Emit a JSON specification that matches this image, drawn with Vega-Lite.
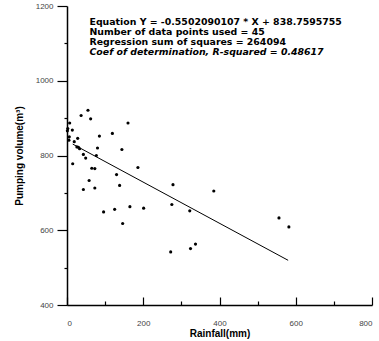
{
  "$schema": "https://vega.github.io/schema/vega-lite/v6.json",
  "width": 305,
  "height": 299,
  "autosize": {"type": "none"},
  "padding": {"left": 67, "top": 6, "right": 7, "bottom": 36},
  "background": "white",
  "config": {
    "view": {"stroke": null},
    "font": "Liberation Sans",
    "axis": {
      "grid": false,
      "domainColor": "#000000",
      "domainWidth": 1.5,
      "tickColor": "#000000",
      "tickWidth": 1.2,
      "labelFont": "Liberation Sans",
      "labelFontSize": 8,
      "labelColor": "#444444",
      "titleFont": "Liberation Sans",
      "titleFontSize": 10,
      "titleFontWeight": "bold",
      "titleColor": "#000000",
      "format": "d"
    }
  },
  "encoding": {
    "x": {
      "field": "x",
      "type": "quantitative",
      "scale": {"domain": [0, 800], "nice": false, "zero": false},
      "axis": {
        "title": "Rainfall(mm)",
        "values": [0, 100, 200, 300, 400, 500, 600, 700, 800],
        "labelExpr": "datum.value % 200 == 0 ? datum.label : ''",
        "tickSize": {"condition": {"test": "datum.value % 200 == 0", "value": -8}, "value": -4},
        "labelPadding": 22,
        "titlePadding": 1
      }
    },
    "y": {
      "field": "y",
      "type": "quantitative",
      "scale": {"domain": [400, 1200], "nice": false, "zero": false},
      "axis": {
        "title": "Pumping volume(m³)",
        "values": [400, 500, 600, 700, 800, 900, 1000, 1100, 1200],
        "labelExpr": "datum.value % 200 == 0 ? datum.label : ''",
        "tickSize": {"condition": {"test": "datum.value % 200 == 0", "value": 10}, "value": 3},
        "labelPadding": 4,
        "titlePadding": 11
      }
    }
  },
  "layer": [
    {
      "data": {"values": [
        {"x": 37, "y": 907}, {"x": 55, "y": 921}, {"x": 62, "y": 898}, {"x": 7, "y": 887},
        {"x": 14, "y": 868}, {"x": 2, "y": 872}, {"x": 28, "y": 846}, {"x": 85, "y": 852},
        {"x": 119, "y": 859}, {"x": 160, "y": 887}, {"x": 5, "y": 841}, {"x": 19, "y": 837},
        {"x": 26, "y": 823}, {"x": 30, "y": 822}, {"x": 80, "y": 820}, {"x": 144, "y": 816},
        {"x": 43, "y": 803}, {"x": 49, "y": 793}, {"x": 77, "y": 800}, {"x": 15, "y": 778},
        {"x": 65, "y": 766}, {"x": 73, "y": 765}, {"x": 130, "y": 749}, {"x": 186, "y": 768},
        {"x": 58, "y": 733}, {"x": 138, "y": 720}, {"x": 278, "y": 722}, {"x": 43, "y": 709},
        {"x": 73, "y": 713}, {"x": 275, "y": 669}, {"x": 322, "y": 652}, {"x": 96, "y": 649},
        {"x": 125, "y": 656}, {"x": 165, "y": 663}, {"x": 201, "y": 659}, {"x": 146, "y": 618},
        {"x": 324, "y": 551}, {"x": 337, "y": 563}, {"x": 385, "y": 705}, {"x": 556, "y": 633},
        {"x": 582, "y": 609}, {"x": 272, "y": 542}, {"x": 1, "y": 866}, {"x": 6, "y": 850},
        {"x": 33, "y": 818}
      ]},
      "mark": {"type": "circle", "size": 10, "color": "#000000", "opacity": 1}
    },
    {
      "data": {"values": [{"x": 15, "y": 830.5}, {"x": 580, "y": 519.6}]},
      "mark": {"type": "line", "color": "#000000", "strokeWidth": 1}
    },
    {
      "data": {"values": [
        {"x": 59, "y": 1156, "t": "Equation Y = -0.5502090107 * X + 838.7595755"},
        {"x": 59, "y": 1130, "t": "Number of data points used = 45"},
        {"x": 59, "y": 1104, "t": "Regression sum of squares = 264094"}
      ]},
      "mark": {"type": "text", "align": "left", "baseline": "middle", "fontSize": 9.4, "fontWeight": "bold", "font": "DejaVu Sans", "color": "#000000"},
      "encoding": {"text": {"field": "t"}}
    },
    {
      "data": {"values": [
        {"x": 59, "y": 1078, "t": "Coef of determination, R-squared = 0.48617"}
      ]},
      "mark": {"type": "text", "align": "left", "baseline": "middle", "fontSize": 9.4, "fontWeight": "bold", "fontStyle": "italic", "font": "DejaVu Sans", "color": "#000000"},
      "encoding": {"text": {"field": "t"}}
    }
  ]
}
